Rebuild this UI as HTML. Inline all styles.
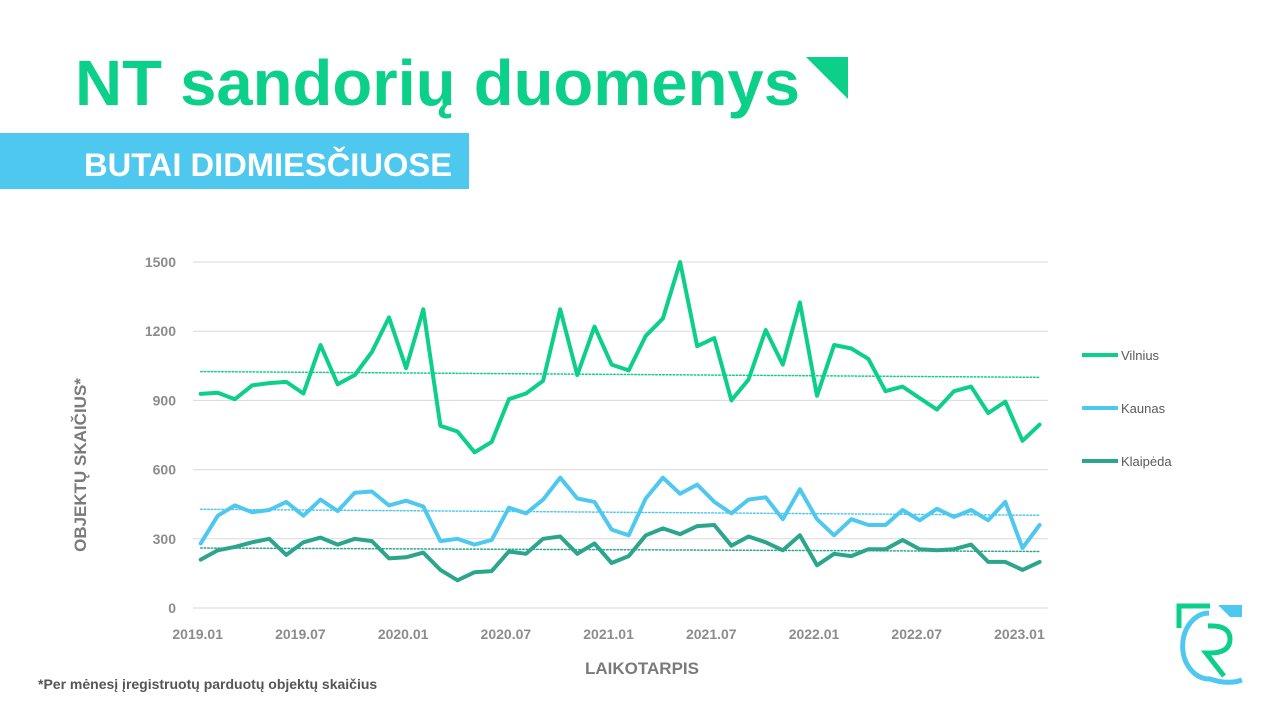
<!DOCTYPE html>
<html><head><meta charset="utf-8"><style>
html,body{margin:0;padding:0;background:#fff;width:1280px;height:720px;overflow:hidden}
svg{display:block;font-family:"Liberation Sans",sans-serif}
</style></head><body>
<svg id="s" width="1280" height="720" viewBox="0 0 1280 720" xmlns="http://www.w3.org/2000/svg">
<text x="75" y="105" font-size="64" font-weight="bold" fill="#0ccf8a" textLength="725" lengthAdjust="spacingAndGlyphs">NT sandorių duomenys</text>
<polygon points="806,57 848,57 848,99" fill="#0ccf8a"/>
<rect x="0" y="133" width="469" height="56" fill="#4fc8f0"/>
<text x="84" y="176" font-size="32" font-weight="bold" fill="#fff" textLength="368" lengthAdjust="spacingAndGlyphs">BUTAI DIDMIESČIUOSE</text>
<g id="grid" stroke="#d9d9d9" stroke-width="1"></g>
<g id="yl" font-size="14" font-weight="bold" fill="#8c8c8c" text-anchor="end"></g>
<g id="xl" font-size="14" font-weight="bold" fill="#8c8c8c" text-anchor="middle"></g>
<g id="series" fill="none" stroke-linejoin="round" stroke-linecap="round"></g>
<text x="642" y="674" font-size="17" font-weight="bold" fill="#7a7a7a" text-anchor="middle">LAIKOTARPIS</text>
<text transform="translate(86,465) rotate(-90)" font-size="17" font-weight="bold" fill="#7a7a7a" text-anchor="middle">OBJEKTŲ SKAIČIUS*</text>
<text x="38" y="689" font-size="14" font-weight="bold" fill="#555">*Per mėnesį įregistruotų parduotų objektų skaičius</text>
<line x1="1082" y1="355" x2="1118" y2="355" stroke="#0ccf8a" stroke-width="4"/>
<text x="1121" y="360" font-size="13" fill="#595959">Vilnius</text>
<line x1="1082" y1="408" x2="1118" y2="408" stroke="#4fc8f0" stroke-width="4"/>
<text x="1121" y="413" font-size="13" fill="#595959">Kaunas</text>
<line x1="1082" y1="461" x2="1118" y2="461" stroke="#2ca58d" stroke-width="4"/>
<text x="1121" y="466" font-size="13" fill="#595959">Klaipėda</text>
<g transform="translate(1176,603)">
<path d="M3 25 V3 H34" stroke="#0ccf8a" stroke-width="5" fill="none"/>
<path d="M33 10 A26 32 0 0 0 34 76 Q52 82 66 77" stroke="#4fc8f0" stroke-width="5" fill="none"/>
<path d="M42 2 H66 V14 H54 Z" fill="#4fc8f0"/>
<path d="M32 23 Q54 22 54 36 Q54 50 34 50 L30 50 L48 73" stroke="#0ccf8a" stroke-width="5" fill="none"/>
</g>
</svg>
<script>
var NS="http://www.w3.org/2000/svg";
function el(t,a,p){var e=document.createElementNS(NS,t);for(var k in a)e.setAttribute(k,a[k]);document.getElementById(p).appendChild(e);return e;}
function Y(v){return 608-v*0.23067;}
function X(i){return 200.7+i*17.12;}
for(var v=0;v<=1500;v+=300){el("line",{x1:193,x2:1048,y1:Y(v),y2:Y(v)},"grid");var t=el("text",{x:176,y:Y(v)+5},"yl");t.textContent=v;}
var xl=["2019.01","2019.07","2020.01","2020.07","2021.01","2021.07","2022.01","2022.07","2023.01"];
for(var j=0;j<9;j++){var t=el("text",{x:X(j*6)-3,y:639},"xl");t.textContent=xl[j];}
var V=[928,933,905,965,975,980,930,1140,970,1010,1110,1260,1040,1295,790,765,675,720,905,930,985,1295,1010,1220,1055,1030,1180,1255,1500,1135,1170,900,990,1205,1055,1325,920,1140,1125,1080,940,960,910,860,940,960,845,895,725,795];
var K=[280,400,445,415,425,460,400,470,420,500,505,445,465,440,290,300,275,295,435,410,470,565,475,460,340,315,475,565,495,535,460,410,470,480,385,515,385,315,385,360,360,425,380,430,395,425,380,460,260,360];
var L=[210,250,265,285,300,230,285,305,275,300,290,215,220,240,165,120,155,160,245,235,300,310,235,280,195,225,315,345,320,355,360,270,310,285,250,315,185,235,225,255,255,295,255,250,255,275,200,200,165,200];
function trend(a,b,c){el("line",{x1:X(0),x2:X(49),y1:Y(a),y2:Y(b),stroke:c,"stroke-width":1.5,"stroke-dasharray":"1.5 2"},"series");}
trend(1025,1000,"#0ccf8a");trend(428,402,"#4fc8f0");trend(260,245,"#2ca58d");
function ser(d,c){el("polyline",{points:d.map(function(v,i){return X(i).toFixed(1)+","+Y(v).toFixed(1)}).join(" "),stroke:c,"stroke-width":4},"series");}
ser(V,"#0ccf8a");ser(K,"#4fc8f0");ser(L,"#2ca58d");
</script>
</body></html>
